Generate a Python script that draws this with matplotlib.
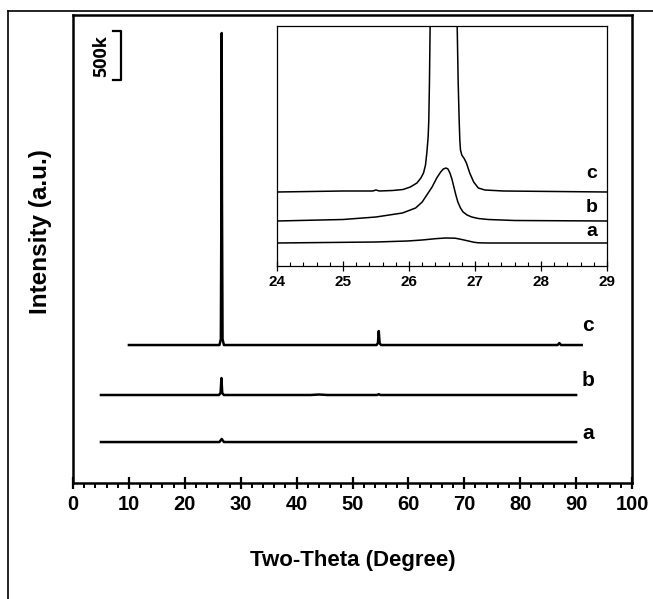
import matplotlib
matplotlib.use('Agg')
import matplotlib.pyplot as plt
from matplotlib.lines import Line2D
from matplotlib.ticker import MultipleLocator

plt.rcParams['font.family'] = ['Liberation Sans', 'DejaVu Sans']
plt.rcParams['font.weight'] = 'bold'

# main pattern (two-theta in degree, intensity in k counts above each baseline)
c_x = [10, 26.2, 26.45, 26.55, 26.6, 26.65, 26.75, 27.0, 54.3, 54.55, 54.7, 54.85, 55.1, 86.7, 87.0, 87.3, 91]
c_y = [0, 0, 60, 1500, 3184, 1500, 60, 0, 0, 20, 143, 20, 0, 0, 20, 0, 0]
b_x = [5, 26.1, 26.4, 26.55, 26.7, 27.0, 42.5, 44.0, 45.5, 54.4, 54.7, 55.0, 90]
b_y = [0, 0, 20, 173, 20, 0, 0, 5, 0, 0, 8, 0, 0]
a_x = [5, 26.2, 26.6, 27.0, 90]
a_y = [0, 0, 31, 0, 0]
offsets = [418, 898, 1408]          # a, b, c
labels = ['a', 'b', 'c']
label_y = [510, 1051, 1612]
scale_bar = 500                     # k counts

# inset (24-29 degree), arbitrary units
ic_x = [24.0, 25.0, 25.45, 25.5, 25.55, 25.75, 25.91, 26.02, 26.12, 26.18, 26.22, 26.25, 26.27,
        26.29, 26.30, 26.31, 26.32, 26.35, 26.72, 26.73, 26.745, 26.76, 26.77, 26.78, 26.80,
        26.84, 26.87, 26.92, 26.98, 27.05, 27.15, 27.43, 29.0]
ic_y = [0, 1, 1, 2, 1, 1.5, 2.5, 5, 9, 14, 19, 27, 39,
        55, 72, 110, 166, 260, 260, 166, 110, 72, 52, 42, 37,
        33, 29, 19, 10, 4, 2, 1, 0]
ib_x = [24.0, 25.0, 25.5, 25.9, 26.1, 26.2, 26.28, 26.35, 26.42, 26.48, 26.52, 26.56, 26.59,
        26.62, 26.65, 26.68, 26.71, 26.74, 26.78, 26.82, 26.88, 26.95, 27.05, 27.2, 27.6, 29.0]
ib_y = [0, 1.5, 4, 8, 13, 19, 27, 34, 43, 49, 52, 53, 52,
        48, 42, 34, 26, 19, 13, 9, 6, 4, 2.5, 1.5, 0.5, 0]
ia_x = [24.0, 25.5, 25.98, 26.2, 26.4, 26.55, 26.7, 26.8, 26.9, 26.98, 27.05, 27.2, 29.0]
ia_y = [0, 1, 2, 3, 4.3, 5, 4.8, 3.5, 2, 0.8, 0.2, 0, 0]
inset_offsets = [23, 45, 74]
inset_label_y = [34, 59, 92]

fig = plt.figure(figsize=(6.53, 5.99), dpi=100)

# outer frame of the original figure
fig.add_artist(Line2D([8 / 653, 8 / 653], [0.0, 1 - 11 / 599], color='black', lw=1.2))
fig.add_artist(Line2D([8 / 653, 1.0], [1 - 11 / 599, 1 - 11 / 599], color='black', lw=1.2))

ax = fig.add_axes([73 / 653, 116 / 599, 559 / 653, 468 / 599])
for xs, ys, off in zip([a_x, b_x, c_x], [a_y, b_y, c_y], offsets):
    ax.plot(xs, [v + off for v in ys], color='black', lw=1.8, solid_joinstyle='round')
for lab, ly in zip(labels, label_y):
    ax.text(92.1, ly, lab, fontsize=15, fontweight='bold', ha='center', va='center')

ax.set_xlim(0, 100)
ax.set_ylim(0, 4776)
ax.xaxis.set_major_locator(MultipleLocator(10))
ax.xaxis.set_minor_locator(MultipleLocator(2))
ax.tick_params(axis='x', which='major', direction='inout', length=8, width=1.6, labelsize=14.5, pad=5)
ax.tick_params(axis='x', which='minor', direction='out', length=3.5, width=1.4)
ax.set_yticks([])
for lbl in ax.get_xticklabels():
    lbl.set_fontweight('bold')
for s in ax.spines.values():
    s.set_linewidth(1.8)
ax.set_xlabel('Two-Theta (Degree)', fontsize=16, fontweight='bold')
ax.xaxis.set_label_coords(0.5, -(550 - 483) / 468)
ax.set_ylabel('Intensity (a.u.)', fontsize=17.5, fontweight='bold')
ax.yaxis.set_label_coords(-21 / 559, (483 - 232) / 468)

# scale bar
top = 4112 + scale_bar
ax.plot([7.2, 8.6, 8.6, 7.2], [4112, 4112, top, top], color='black', lw=1.6)
ax.text(5.0, 4112 + scale_bar / 2, '%dk' % scale_bar, rotation=90, fontsize=13,
        fontweight='bold', family=['Open Sans', 'DejaVu Sans'], ha='center', va='center')

# inset
ins = fig.add_axes([277 / 653, 333 / 599, 330 / 653, 240 / 599])
for xs, ys, off in zip([ia_x, ib_x, ic_x], [ia_y, ib_y, ic_y], inset_offsets):
    ins.plot(xs, [v + off for v in ys], color='black', lw=1.1, solid_joinstyle='round')
for lab, ly in zip(labels, inset_label_y):
    ins.text(28.77, ly, lab, fontsize=14, fontweight='bold', ha='center', va='center')
ins.set_xlim(24, 29)
ins.set_ylim(0, 240)
ins.xaxis.set_major_locator(MultipleLocator(1))
ins.xaxis.set_minor_locator(MultipleLocator(0.2))
ins.tick_params(axis='x', which='major', direction='inout', length=7, width=0.9, labelsize=11, pad=3)
ins.tick_params(axis='x', which='minor', direction='in', length=3, width=0.8)
ins.set_yticks([])
for lbl in ins.get_xticklabels():
    lbl.set_fontweight('bold')
for s in ins.spines.values():
    s.set_linewidth(0.9)

fig.savefig('out.png', dpi=100)
